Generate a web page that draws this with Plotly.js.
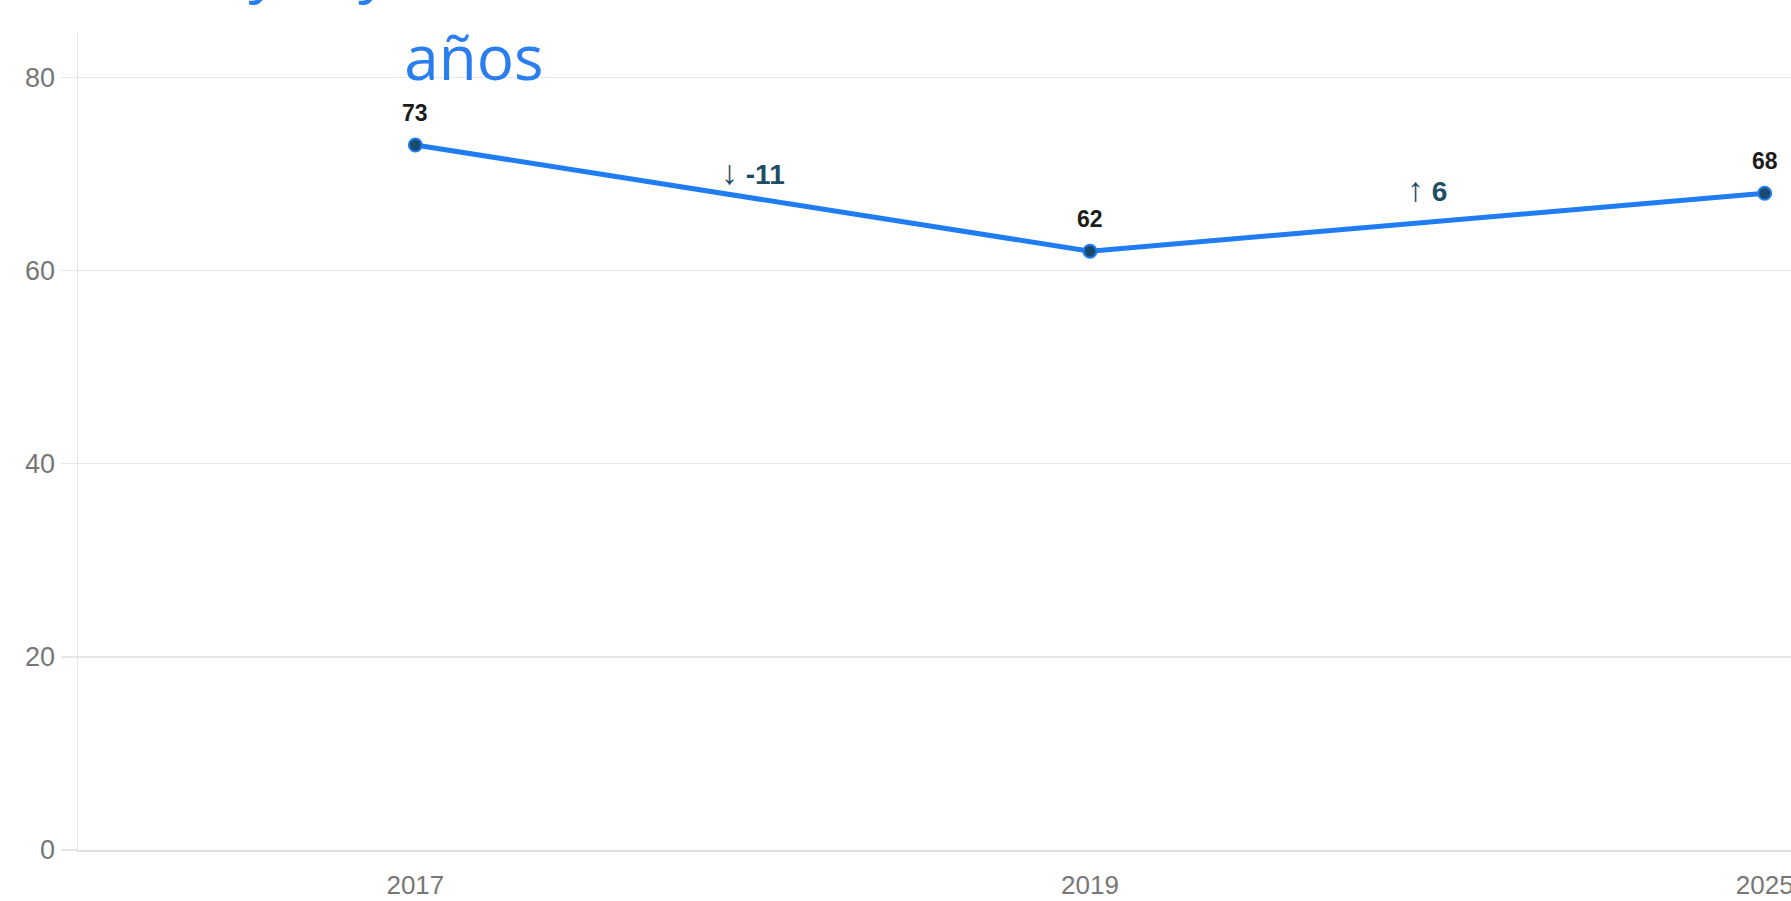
<!DOCTYPE html>
<html>
<head>
<meta charset="utf-8">
<script src="https://cdn.plot.ly/plotly-3.0.1.min.js"></script>
<style>
  html, body { margin: 0; padding: 0; background: #fff; overflow: hidden; }
  #chart { width: 1791px; height: 901px; }
</style>
</head>
<body>
<div id="chart"></div>
<script>
// Chart data
const years = ['2017', '2019', '2025'];
const values = [73, 62, 68];
const yTicks = [0, 20, 40, 60, 80];
const titleLines = ['El valor mayor y menor de los últimos', 'años'];

const lineBlue = '#1f7cf1';
const labelFont = 'Liberation Sans, Arial, Helvetica, sans-serif';

// title lines are set a bit further apart than plotly's default line spacing
const titleText = titleLines
    .map(t => '<span style="font-size:62px">' + t + '</span>')
    .join('<br>');

// Point labels above each marker (category index as x)
const pointLabels = values.map((v, i) => ({
    x: i,
    y: v,
    xref: 'x',
    yref: 'y',
    text: '<b>' + v + '</b>',
    showarrow: false,
    yshift: 32,
    font: { family: labelFont, size: 23, color: '#1c1c1c' }
}));

// Change labels between consecutive points
const changeLabels = [];
for (let i = 1; i < values.length; i++) {
    const delta = values[i] - values[i - 1];
    const arrow = delta < 0 ? '↓' : '↑';
    changeLabels.push({
        x: i - 0.5,
        y: (values[i] + values[i - 1]) / 2,
        xref: 'x',
        yref: 'y',
        text: '<span style="font-size:34px">' + arrow + '</span> <b>' + delta + '</b>',
        showarrow: false,
        yshift: delta < 0 ? 26 : 33,
        font: { family: labelFont, size: 28, color: '#1e4d64' }
    });
}

const trace = {
    x: years,
    y: values,
    type: 'scatter',
    mode: 'lines+markers',
    line: { color: lineBlue, width: 5 },
    marker: { size: 13, color: '#1b4b6c', line: { color: lineBlue, width: 2 } },
    hoverinfo: 'skip',
    cliponaxis: false
};

const layout = {
    width: 1791,
    height: 901,
    paper_bgcolor: '#fff',
    plot_bgcolor: '#fff',
    showlegend: false,
    margin: { l: 78, r: 0, t: 32, b: 51, pad: 0 },
    title: {
        text: titleText,
        font: { family: 'Open Sans, sans-serif', size: 69, color: '#2a7ef0' },
        xref: 'container',
        x: 474 / 1791,
        xanchor: 'center',
        yref: 'container',
        y: 1,
        yanchor: 'bottom',
        pad: { b: 10 }
    },
    xaxis: {
        type: 'category',
        range: [-0.5, 2.039],
        showgrid: false,
        zeroline: false,
        showline: true,
        linecolor: '#dedede',
        linewidth: 2,
        ticks: '',
        ticklabelstandoff: 11,
        tickfont: { family: labelFont, size: 26, color: '#777' }
    },
    yaxis: {
        range: [0, 84.7],
        tickvals: yTicks,
        showgrid: true,
        gridcolor: '#e6e6e6',
        gridwidth: 1.5,
        zeroline: false,
        showline: true,
        linecolor: '#e3e3e3',
        linewidth: 1.5,
        ticks: 'outside',
        ticklen: 16,
        tickwidth: 1.5,
        tickcolor: '#e6e6e6',
        ticklabelstandoff: 0,
        tickfont: { family: labelFont, size: 27, color: '#777' }
    },
    annotations: pointLabels.concat(changeLabels)
};

Plotly.newPlot('chart', [trace], layout, { displayModeBar: false, staticPlot: true });
</script>
</body>
</html>
